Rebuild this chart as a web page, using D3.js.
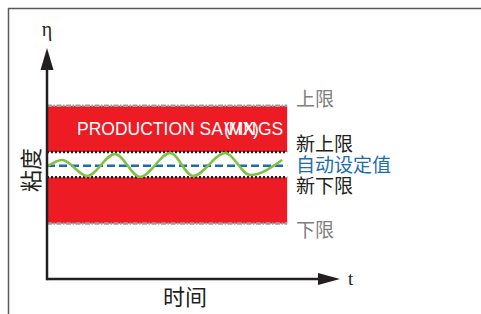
<!DOCTYPE html>
<html>
<head>
<meta charset="utf-8">
<script src="https://cdn.jsdelivr.net/npm/d3@7"></script>
<style>
  body { margin: 0; background: #fff; }
  svg { display: block; }
</style>
</head>
<body>
<div class="chart"></div>
<script>
var svgWidth = 481;
var svgHeight = 314;

// limit lines (viscosity units), top to bottom
var limitNames = ['上限', '新上限', '自动设定值', '新下限', '下限'];
var limitValues = [7.5, 5.5, 4.9, 4.4, 2.4];
var limitColors = ['#808080', '#231f20', '#1b6db0', '#231f20', '#808080'];

// time span of the shaded bands
var bandStart = 0;
var bandEnd = 100;

var waveT   = [0.4, 6.3, 16.7, 28.3, 38.8, 51.3, 60.8, 74.2, 84.6, 97.9];
var waveEta = [4.89, 5.15, 4.46, 5.41, 4.42, 5.45, 4.46, 5.45, 4.50, 5.15];

var svg = d3.select('.chart')
  .append('svg')
  .attr('width', svgWidth)
  .attr('height', svgHeight);

// time -> px, viscosity -> px
var xScale = d3.scaleLinear().domain([0, 122]).range([47, 340]);
var yScale = d3.scaleLinear().domain([0, 10]).range([279, 48]);

// outer frame (only top and left show)
svg.append('path')
  .attr('d', 'M8.5,314 L8.5,8.5 L481,8.5')
  .attr('fill', 'none')
  .attr('stroke', '#5a5a5a')
  .attr('stroke-width', 1.5);

var chart = svg.append('g');

// red bands: upper limit -> new upper, new lower -> lower limit
var bands = [[limitValues[0], limitValues[1]], [limitValues[3], limitValues[4]]];
chart.selectAll('rect.band')
  .data(bands)
  .enter()
  .append('rect')
  .attr('class', 'band')
  .attr('x', xScale(bandStart))
  .attr('width', xScale(bandEnd) - xScale(bandStart))
  .attr('y', function(d) { return yScale(d[0]); })
  .attr('height', function(d) { return yScale(d[1]) - yScale(d[0]); })
  .attr('fill', '#ed1c24');

// old limits: grey dash-dot
[limitValues[0], limitValues[4]].forEach(function(v) {
  chart.append('line')
    .attr('x1', xScale(bandStart)).attr('x2', xScale(bandEnd))
    .attr('y1', yScale(v)).attr('y2', yScale(v))
    .attr('stroke', '#9d9d9d')
    .attr('stroke-width', 2.5)
    .attr('stroke-dasharray', '5,1.5,1.5,1.5');
});

// new limits: black dotted
[limitValues[1], limitValues[3]].forEach(function(v) {
  chart.append('line')
    .attr('x1', xScale(bandStart)).attr('x2', xScale(bandEnd))
    .attr('y1', yScale(v)).attr('y2', yScale(v))
    .attr('stroke', '#231f20')
    .attr('stroke-width', 2.5)
    .attr('stroke-dasharray', '2,2');
});

// set point: blue dashed
chart.append('line')
  .attr('x1', xScale(bandStart)).attr('x2', xScale(bandEnd))
  .attr('y1', yScale(limitValues[2])).attr('y2', yScale(limitValues[2]))
  .attr('stroke', '#1b6db0')
  .attr('stroke-width', 2.5)
  .attr('stroke-dasharray', '8,4');

// measured wave
var wave = waveT.map(function(t, i) { return [t, waveEta[i]]; });
chart.append('path')
  .datum(wave)
  .attr('fill', 'none')
  .attr('stroke', '#7dc242')
  .attr('stroke-width', 2.5)
  .attr('d', d3.line()
    .x(function(d) { return xScale(d[0]); })
    .y(function(d) { return yScale(d[1]); })
    .curve(d3.curveMonotoneX));

// band text (the source has a garbled overprint in "SAVINGS")
var bandText = chart.append('text')
  .attr('y', 135)
  .attr('font-family', '"Liberation Sans", Arial, sans-serif')
  .attr('font-size', 17.5)
  .attr('fill', '#fff');
bandText.append('tspan').attr('x', 77).text('PRODUCTION SA');
bandText.append('tspan').attr('x', 224).attr('letter-spacing', 1.5).text('VIN');
bandText.append('tspan').attr('x', 224).attr('letter-spacing', -1).text('(MX)');
bandText.append('tspan').attr('x', 258).text('GS');

// limit labels on the right (px nudges keep them apart)
var labelShift = [-7, -8, -1, 9, 7];
chart.selectAll('text.limit')
  .data(limitNames)
  .enter()
  .append('text')
  .attr('class', 'limit')
  .attr('x', 296)
  .attr('y', function(d, i) { return yScale(limitValues[i]) + labelShift[i]; })
  .attr('dy', '0.36em')
  .attr('font-family', '"Noto Sans CJK SC", sans-serif')
  .attr('font-size', 19)
  .attr('fill', function(d, i) { return limitColors[i]; })
  .text(function(d) { return d; });

// axes with arrowheads
var axisColor = '#231f20';
chart.append('line')
  .attr('x1', xScale(0)).attr('x2', xScale(0))
  .attr('y1', yScale(0) + 1.25).attr('y2', yScale(9.5))
  .attr('stroke', axisColor).attr('stroke-width', 2.5);
chart.append('line')
  .attr('x1', xScale(0)).attr('x2', xScale(116))
  .attr('y1', yScale(0)).attr('y2', yScale(0))
  .attr('stroke', axisColor).attr('stroke-width', 2.5);

var x0 = xScale(0), y0 = yScale(0), yTop = yScale(10), xTip = xScale(122);
chart.append('path')
  .attr('d', 'M' + x0 + ',' + yTop + ' L' + (x0 - 6.5) + ',' + (yTop + 22) + ' L' + (x0 + 6.5) + ',' + (yTop + 22) + 'Z')
  .attr('fill', axisColor);
chart.append('path')
  .attr('d', 'M' + xTip + ',' + y0 + ' L' + (xTip - 22) + ',' + (y0 - 6) + ' L' + (xTip - 22) + ',' + (y0 + 6) + 'Z')
  .attr('fill', axisColor);

// axis symbols and titles
chart.append('text')
  .attr('x', x0).attr('y', 36)
  .attr('text-anchor', 'middle')
  .attr('font-family', '"Liberation Serif", "DejaVu Serif", serif')
  .attr('font-size', 20)
  .attr('fill', axisColor)
  .text('η');
chart.append('text')
  .attr('x', 348).attr('y', 285)
  .attr('font-family', '"Liberation Serif", "DejaVu Serif", serif')
  .attr('font-size', 19)
  .attr('fill', axisColor)
  .text('t');
chart.append('text')
  .attr('x', 185).attr('y', 297)
  .attr('dy', '0.36em')
  .attr('text-anchor', 'middle')
  .attr('font-family', '"Noto Sans CJK SC", sans-serif')
  .attr('font-size', 22)
  .attr('fill', axisColor)
  .text('时间');
chart.append('text')
  .attr('transform', 'translate(31,170) rotate(-90)')
  .attr('dy', '0.36em')
  .attr('text-anchor', 'middle')
  .attr('font-family', '"Noto Sans CJK SC", sans-serif')
  .attr('font-size', 22)
  .attr('fill', axisColor)
  .text('粘度');
</script>
</body>
</html>
